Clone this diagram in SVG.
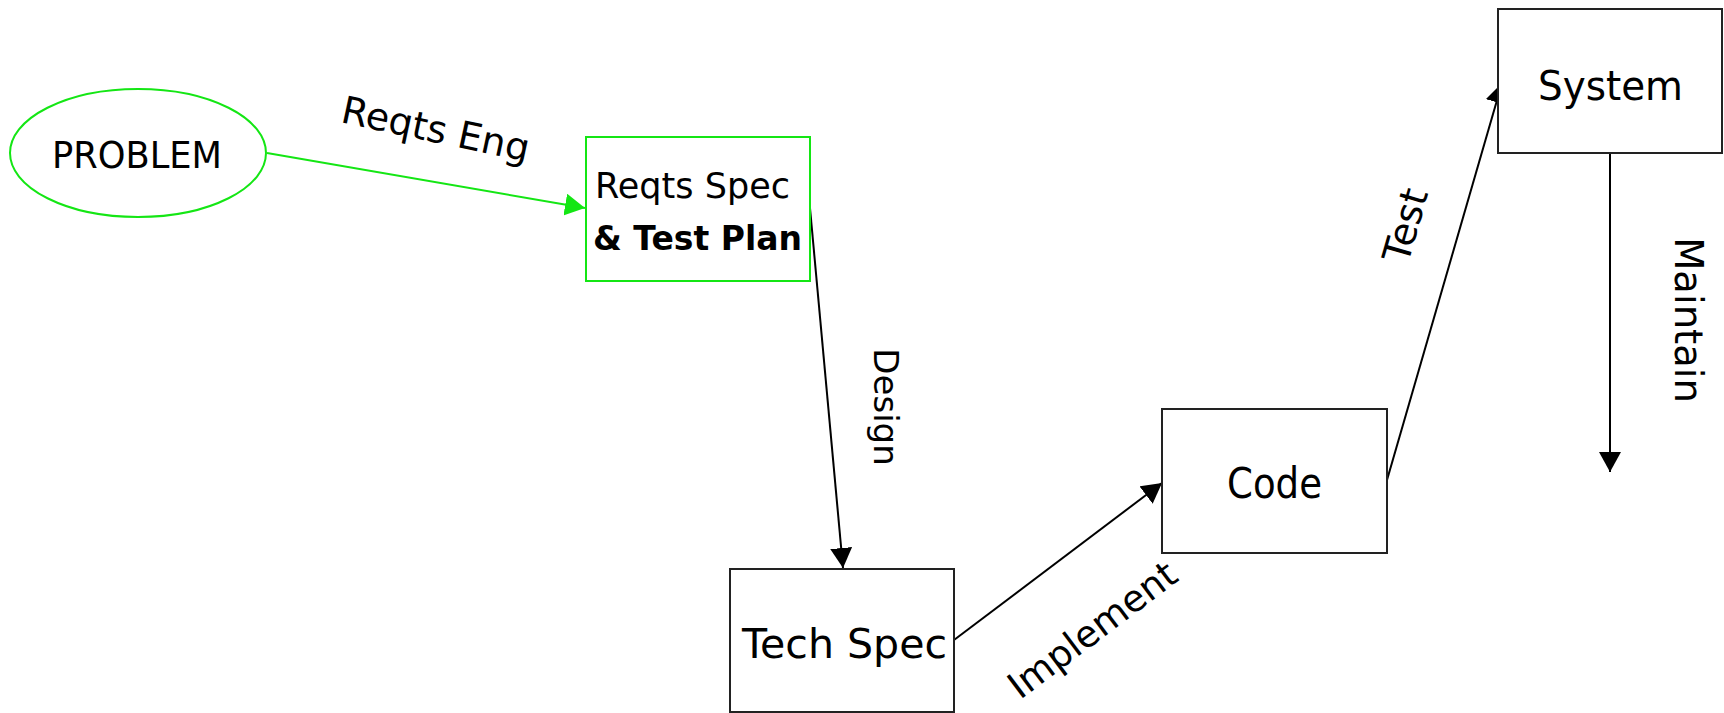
<svg xmlns="http://www.w3.org/2000/svg" width="1724" height="713" viewBox="0 0 1724 713">
<style>
.t{font-family:"DejaVu Sans","Liberation Sans",sans-serif;fill:#000;}
.box{fill:#fff;stroke:#222;stroke-width:2;}
.gbox{fill:#fff;stroke:#14e614;stroke-width:2;}
.c{fill:none;stroke:#000;stroke-width:2;}
.g{fill:none;stroke:#14e614;stroke-width:2;}
</style>
<defs>
<marker id="ab" markerUnits="userSpaceOnUse" markerWidth="20" markerHeight="22" refX="20" refY="11" orient="auto">
<path d="M0,0 L20,11 L0,22 z" fill="#000"/>
</marker>
<marker id="ag" markerUnits="userSpaceOnUse" markerWidth="20" markerHeight="22" refX="20" refY="11" orient="auto">
<path d="M0,0 L20,11 L0,22 z" fill="#14e614"/>
</marker>
</defs>
<rect width="1724" height="713" fill="#fff"/>
<g id="connectors">
<line class="g" x1="267" y1="153" x2="585" y2="208" marker-end="url(#ag)"/>
<line class="c" x1="810" y1="208" x2="843" y2="568" marker-end="url(#ab)"/>
<line class="c" x1="954" y1="640" x2="1162" y2="483" marker-end="url(#ab)"/>
<line class="c" x1="1387" y1="480" x2="1502" y2="83" marker-end="url(#ab)"/>
<line class="c" x1="1610" y1="153" x2="1610" y2="472" marker-end="url(#ab)"/>
<text class="t" font-size="38" x="0" y="0" text-anchor="middle" transform="translate(433 142) rotate(12)">Reqts Eng</text>
<text class="t" font-size="34" x="0" y="0" text-anchor="middle" transform="translate(874 407) rotate(90)">Design</text>
<text class="t" font-size="37" x="0" y="0" text-anchor="middle" transform="translate(1100 640) rotate(-37)">Implement</text>
<text class="t" font-size="38" x="0" y="0" text-anchor="middle" transform="translate(1418 229) rotate(-74)">Test</text>
<text class="t" font-size="38.5" x="0" y="0" text-anchor="middle" transform="translate(1675 320) rotate(90)">Maintain</text>
</g>
<g id="problem">
<ellipse cx="138" cy="153" rx="128" ry="64" class="gbox" stroke-width="2.5"/>
<text class="t" font-size="38" x="137" y="168" text-anchor="middle" textLength="170" lengthAdjust="spacingAndGlyphs">PROBLEM</text>
</g>
<g id="reqts-spec">
<rect x="586" y="137" width="224" height="144" class="gbox"/>
<text class="t" font-size="35" x="595" y="198" textLength="195" lengthAdjust="spacingAndGlyphs">Reqts Spec</text>
<text class="t" font-size="34" font-weight="bold" x="593" y="250" textLength="209" lengthAdjust="spacingAndGlyphs">&amp; Test Plan</text>
</g>
<g id="tech-spec">
<rect x="730" y="569" width="224" height="143" class="box"/>
<text class="t" font-size="41" x="844.5" y="658" text-anchor="middle" textLength="205" lengthAdjust="spacingAndGlyphs">Tech Spec</text>
</g>
<g id="code">
<rect x="1162" y="409" width="225" height="144" class="box"/>
<text class="t" font-size="42" x="1274.5" y="498" text-anchor="middle" textLength="95" lengthAdjust="spacingAndGlyphs">Code</text>
</g>
<g id="system">
<rect x="1498" y="9" width="224" height="144" class="box"/>
<text class="t" font-size="41" x="1610.5" y="100" text-anchor="middle" textLength="145" lengthAdjust="spacingAndGlyphs">System</text>
</g>
</svg>
